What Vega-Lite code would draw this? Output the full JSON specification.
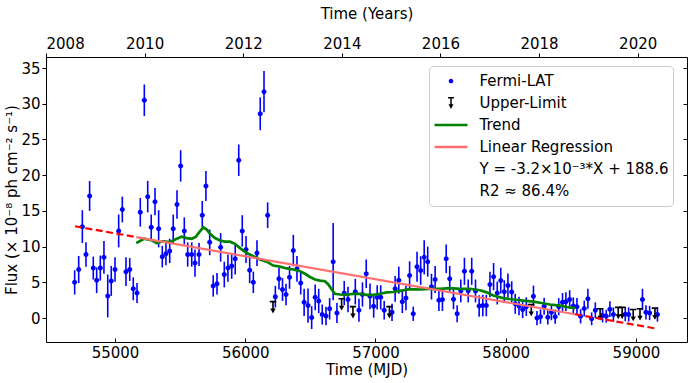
{
  "$schema": "https://vega.github.io/schema/vega-lite/v6.json",
  "width": 641,
  "height": 285,
  "autosize": {"type": "none"},
  "padding": {"left": 46, "top": 57, "right": 4, "bottom": 41},
  "config": {
    "font": "DejaVu Sans",
    "view": {"stroke": "black", "strokeWidth": 1},
    "axis": {"domain": false, "grid": false, "labelFont": "DejaVu Sans", "labelFontSize": 15, "labelColor": "black", "titleFont": "DejaVu Sans", "titleFontSize": 15, "titleFontWeight": "normal", "titleColor": "black", "tickColor": "black", "tickWidth": 1}
  },
  "datasets": {
    "flux": [
      {"mjd":54690,"flux":5.0,"err":1.7},{"mjd":54721,"flux":6.8,"err":1.9},{"mjd":54749,"flux":12.8,"err":2.3},{"mjd":54777,"flux":8.9,"err":1.7},{"mjd":54805,"flux":17.1,"err":2.1},{"mjd":54833,"flux":7.0,"err":1.6},{"mjd":54859,"flux":5.3,"err":1.8},{"mjd":54887,"flux":7.0,"err":1.75},{"mjd":54915,"flux":8.5,"err":2.3},{"mjd":54944,"flux":3.1,"err":3.0},
      {"mjd":54971,"flux":5.2,"err":2.1},{"mjd":55000,"flux":6.8,"err":1.7},{"mjd":55028,"flux":12.2,"err":2.3},{"mjd":55056,"flux":15.2,"err":1.8},{"mjd":55084,"flux":6.5,"err":2.0},{"mjd":55113,"flux":6.8,"err":1.6},{"mjd":55140,"flux":4.1,"err":1.6},{"mjd":55169,"flux":3.5,"err":1.4},{"mjd":55194,"flux":14.8,"err":2.0},{"mjd":55225,"flux":30.5,"err":2.2},
      {"mjd":55251,"flux":17.0,"err":2.2},{"mjd":55278,"flux":12.7,"err":1.8},{"mjd":55307,"flux":16.3,"err":1.9},{"mjd":55335,"flux":12.5,"err":2.6},{"mjd":55363,"flux":8.6,"err":1.5},{"mjd":55391,"flux":9.0,"err":1.6},{"mjd":55420,"flux":9.4,"err":1.7},{"mjd":55447,"flux":12.5,"err":2.0},{"mjd":55476,"flux":15.9,"err":2.0},{"mjd":55504,"flux":21.3,"err":2.2},
      {"mjd":55532,"flux":12.2,"err":1.9},{"mjd":55558,"flux":8.9,"err":1.7},{"mjd":55589,"flux":8.9,"err":1.7},{"mjd":55614,"flux":7.7,"err":1.9},{"mjd":55645,"flux":8.9,"err":1.6},{"mjd":55670,"flux":14.4,"err":2.0},{"mjd":55698,"flux":18.5,"err":2.1},{"mjd":55727,"flux":10.6,"err":1.8},{"mjd":55754,"flux":4.5,"err":1.5},{"mjd":55783,"flux":4.8,"err":1.5},
      {"mjd":55811,"flux":9.9,"err":2.0},{"mjd":55839,"flux":6.1,"err":1.8},{"mjd":55867,"flux":7.0,"err":1.9},{"mjd":55896,"flux":7.3,"err":1.8},{"mjd":55923,"flux":8.3,"err":2.2},{"mjd":55950,"flux":22.1,"err":2.2},{"mjd":55977,"flux":12.2,"err":2.2},{"mjd":56006,"flux":9.6,"err":1.9},{"mjd":56034,"flux":6.7,"err":1.8},{"mjd":56062,"flux":5.0,"err":1.5},
      {"mjd":56090,"flux":9.1,"err":1.8},{"mjd":56115,"flux":28.6,"err":2.3},{"mjd":56144,"flux":31.7,"err":2.9},{"mjd":56172,"flux":14.4,"err":1.8},{"mjd":56231,"flux":3.0,"err":1.5},{"mjd":56259,"flux":5.5,"err":1.5},{"mjd":56286,"flux":4.0,"err":1.6},{"mjd":56313,"flux":3.3,"err":1.5},{"mjd":56340,"flux":5.7,"err":1.6},{"mjd":56369,"flux":9.45,"err":2.2},
      {"mjd":56397,"flux":6.9,"err":1.8},{"mjd":56426,"flux":4.9,"err":1.6},{"mjd":56452,"flux":2.2,"err":1.9},{"mjd":56482,"flux":1.75,"err":2.4},{"mjd":56510,"flux":0.07,"err":1.6},{"mjd":56537,"flux":2.9,"err":1.8},{"mjd":56564,"flux":2.4,"err":1.7},{"mjd":56591,"flux":0.5,"err":1.4},{"mjd":56620,"flux":0.3,"err":1.3},{"mjd":56648,"flux":1.3,"err":1.5},
      {"mjd":56675,"flux":7.9,"err":5.4},{"mjd":56704,"flux":0.7,"err":1.4},{"mjd":56760,"flux":3.5,"err":1.7},{"mjd":56789,"flux":2.6,"err":1.8},{"mjd":56845,"flux":3.7,"err":1.8},{"mjd":56873,"flux":1.1,"err":1.6},{"mjd":56900,"flux":3.3,"err":1.7},{"mjd":56929,"flux":6.2,"err":2.0},{"mjd":56958,"flux":3.05,"err":1.8},{"mjd":56986,"flux":1.65,"err":1.6},
      {"mjd":57013,"flux":2.9,"err":1.7},{"mjd":57040,"flux":2.9,"err":1.7},{"mjd":57067,"flux":1.1,"err":1.3},{"mjd":57127,"flux":0.8,"err":1.2},{"mjd":57151,"flux":4.1,"err":1.8},{"mjd":57179,"flux":5.3,"err":1.9},{"mjd":57206,"flux":2.3,"err":1.6},{"mjd":57234,"flux":2.8,"err":1.7},{"mjd":57262,"flux":5.95,"err":2.0},{"mjd":57290,"flux":0.6,"err":1.0},
      {"mjd":57319,"flux":7.2,"err":2.1},{"mjd":57347,"flux":6.65,"err":2.0},{"mjd":57374,"flux":8.5,"err":2.4},{"mjd":57401,"flux":7.9,"err":2.1},{"mjd":57430,"flux":4.4,"err":1.8},{"mjd":57458,"flux":5.4,"err":1.9},{"mjd":57487,"flux":2.5,"err":1.5},{"mjd":57514,"flux":2.6,"err":1.6},{"mjd":57543,"flux":8.3,"err":2.0},{"mjd":57570,"flux":5.5,"err":1.8},
      {"mjd":57599,"flux":2.65,"err":1.4},{"mjd":57627,"flux":0.6,"err":1.2},{"mjd":57655,"flux":3.8,"err":1.6},{"mjd":57683,"flux":6.55,"err":1.9},{"mjd":57712,"flux":3.8,"err":1.6},{"mjd":57739,"flux":6.55,"err":1.9},{"mjd":57768,"flux":3.8,"err":1.6},{"mjd":57796,"flux":1.7,"err":1.5},{"mjd":57824,"flux":1.75,"err":1.5},{"mjd":57851,"flux":1.75,"err":1.5},
      {"mjd":57879,"flux":4.7,"err":1.8},{"mjd":57907,"flux":5.8,"err":1.9},{"mjd":57935,"flux":3.5,"err":1.6},{"mjd":57962,"flux":5.25,"err":1.8},{"mjd":57989,"flux":3.7,"err":1.6},{"mjd":58017,"flux":4.55,"err":1.7},{"mjd":58046,"flux":3.65,"err":1.5},{"mjd":58073,"flux":2.0,"err":1.4},{"mjd":58102,"flux":1.7,"err":1.3},{"mjd":58130,"flux":1.2,"err":1.2},
      {"mjd":58158,"flux":1.6,"err":1.3},{"mjd":58213,"flux":3.05,"err":1.5},{"mjd":58240,"flux":0.0,"err":1.0},{"mjd":58267,"flux":0.2,"err":1.0},{"mjd":58295,"flux":1.65,"err":1.2},{"mjd":58323,"flux":0.1,"err":1.0},{"mjd":58351,"flux":0.8,"err":1.1},{"mjd":58380,"flux":0.2,"err":1.0},{"mjd":58407,"flux":1.6,"err":1.2},{"mjd":58436,"flux":2.2,"err":1.3},
      {"mjd":58462,"flux":2.3,"err":1.3},{"mjd":58491,"flux":2.6,"err":1.3},{"mjd":58519,"flux":1.7,"err":1.2},{"mjd":58547,"flux":1.6,"err":1.2},{"mjd":58575,"flux":0.25,"err":1.0},{"mjd":58603,"flux":1.35,"err":1.1},{"mjd":58631,"flux":2.7,"err":1.4},{"mjd":58660,"flux":-0.1,"err":0.9},{"mjd":58688,"flux":1.1,"err":1.1},{"mjd":58744,"flux":0.4,"err":1.0},
      {"mjd":58772,"flux":0.25,"err":0.9},{"mjd":58800,"flux":1.25,"err":1.1},{"mjd":58827,"flux":0.5,"err":1.0},{"mjd":58918,"flux":0.55,"err":1.0},{"mjd":58944,"flux":0.5,"err":1.0},{"mjd":59050,"flux":2.6,"err":1.5},{"mjd":59077,"flux":0.8,"err":1.0},{"mjd":59105,"flux":0.7,"err":1.0},{"mjd":59165,"flux":0.5,"err":1.0}
    ],
    "ul": [
      {"mjd":56213,"flux":2.3},{"mjd":56740,"flux":2.7},{"mjd":56827,"flux":1.6},{"mjd":57107,"flux":1.6},{"mjd":58196,"flux":1.9},{"mjd":58725,"flux":1.3},{"mjd":58864,"flux":1.5},{"mjd":58894,"flux":1.5},{"mjd":58979,"flux":1.2},{"mjd":59031,"flux":1.3},{"mjd":59146,"flux":1.4}
    ],
    "trend": [
      {"mjd":55163,"flux":10.5},{"mjd":55222,"flux":11.1},{"mjd":55282,"flux":10.9},{"mjd":55320,"flux":10.5},{"mjd":55371,"flux":10.75},{"mjd":55422,"flux":10.65},{"mjd":55474,"flux":11.1},{"mjd":55512,"flux":11.4},{"mjd":55550,"flux":11.2},{"mjd":55589,"flux":11.1},
      {"mjd":55622,"flux":11.4},{"mjd":55652,"flux":12.15},{"mjd":55678,"flux":12.7},{"mjd":55704,"flux":12.4},{"mjd":55729,"flux":11.8},{"mjd":55768,"flux":11.2},{"mjd":55806,"flux":10.85},{"mjd":55844,"flux":10.7},{"mjd":55883,"flux":10.7},{"mjd":55921,"flux":10.4},
      {"mjd":55960,"flux":9.8},{"mjd":56011,"flux":9.1},{"mjd":56062,"flux":8.65},{"mjd":56113,"flux":8.2},{"mjd":56165,"flux":7.9},{"mjd":56215,"flux":7.35},{"mjd":56267,"flux":7.2},{"mjd":56318,"flux":6.95},{"mjd":56369,"flux":6.8},{"mjd":56420,"flux":6.55},
      {"mjd":56459,"flux":6.2},{"mjd":56497,"flux":5.75},{"mjd":56536,"flux":5.4},{"mjd":56574,"flux":5.25},{"mjd":56612,"flux":5.15},{"mjd":56638,"flux":4.7},{"mjd":56664,"flux":4.0},{"mjd":56689,"flux":3.4},{"mjd":56727,"flux":3.3},{"mjd":56779,"flux":3.25},
      {"mjd":56829,"flux":3.4},{"mjd":56881,"flux":3.4},{"mjd":56932,"flux":3.25},{"mjd":56983,"flux":3.25},{"mjd":57034,"flux":3.4},{"mjd":57086,"flux":3.6},{"mjd":57137,"flux":3.65},{"mjd":57188,"flux":3.8},{"mjd":57265,"flux":4.05},{"mjd":57342,"flux":4.0},
      {"mjd":57418,"flux":4.1},{"mjd":57495,"flux":4.1},{"mjd":57572,"flux":4.2},{"mjd":57649,"flux":4.1},{"mjd":57726,"flux":4.1},{"mjd":57802,"flux":3.9},{"mjd":57854,"flux":3.6},{"mjd":57904,"flux":3.15},{"mjd":57981,"flux":2.8},{"mjd":58058,"flux":2.6},
      {"mjd":58135,"flux":2.45},{"mjd":58212,"flux":2.3},{"mjd":58263,"flux":2.15},{"mjd":58340,"flux":1.9},{"mjd":58417,"flux":1.75},{"mjd":58468,"flux":1.55},{"mjd":58532,"flux":1.4}
    ],
    "reg": [{"mjd":55163,"flux":11.34},{"mjd":58532,"flux":0.53}],
    "regdash": [{"mjd":54693,"flux":12.85,"seg":"a"},{"mjd":55163,"flux":11.34,"seg":"a"},{"mjd":58532,"flux":0.53,"seg":"b"},{"mjd":59165,"flux":-1.5,"seg":"b"}],
    "years": [{"year":2008,"flux":0},{"year":2021,"flux":0}]
  },
  "layer": [
    {
      "encoding": {
        "x": {"field": "mjd", "type": "quantitative", "scale": {"domain": [54470, 59392], "nice": false, "zero": false},
              "axis": {"orient": "bottom", "title": "Time (MJD)", "values": [55000, 56000, 57000, 58000, 59000], "format": "d", "tickSize": -4, "labelPadding": 7, "titlePadding": 2}},
        "y": {"field": "flux", "type": "quantitative", "scale": {"domain": [-3.35, 36.55], "nice": false, "zero": false},
              "axis": {"orient": "left", "title": "Flux (× 10⁻⁸ ph cm⁻² s⁻¹)", "values": [0, 5, 10, 15, 20, 25, 30, 35], "tickSize": 4, "labelPadding": 2, "titlePadding": 1}}
      },
      "layer": [
        {
          "data": {"name": "flux"},
          "mark": {"type": "errorbar", "color": "#0000ff", "thickness": 1.6},
          "encoding": {"yError": {"field": "err"}}
        },
        {
          "data": {"name": "flux"},
          "transform": [{"calculate": "'Fermi-LAT'", "as": "series"}],
          "mark": {"type": "point", "filled": true, "size": 1276, "opacity": 1, "strokeWidth": 0},
          "encoding": {
            "color": {
              "field": "series", "type": "nominal",
              "scale": {"domain": ["Fermi-LAT", "Upper-Limit", "Trend", "Linear Regression", "Y = -3.2×10⁻³*X + 188.6", "R2 ≈ 86.4%"],
                        "range": ["#0000ff", "black", "#008000", "#ff6e6e", "transparent", "transparent"]},
              "legend": {
                "orient": "none", "legendX": 383, "legendY": 9, "direction": "vertical", "title": null,
                "fillColor": "white", "strokeColor": "#cccccc", "cornerRadius": 4, "padding": 4,
                "symbolSize": 1089, "symbolStrokeWidth": 0, "symbolOffset": 1.5, "symbolOpacity": 1,
                "labelFont": "DejaVu Sans", "labelFontSize": 15, "labelColor": "black", "labelOffset": 12, "labelLimit": 400,
                "clipHeight": 22, "rowPadding": 0, "zindex": 1
              }
            },
            "shape": {
              "field": "series", "type": "nominal",
              "scale": {"domain": ["Fermi-LAT", "Upper-Limit", "Trend", "Linear Regression", "Y = -3.2×10⁻³*X + 188.6", "R2 ≈ 86.4%"],
                        "range": [
                          "M0.14,0A0.14,0.14,0,1,1,-0.14,0A0.14,0.14,0,1,1,0.14,0Z",
                          "M-0.18,-0.36H0.18V-0.27H-0.18ZM-0.045,-0.27H0.045V0.12H-0.045ZM-0.15,0.08H0.15L0,0.36Z",
                          "M-1,-0.076H1V0.076H-1Z",
                          "M-1,-0.076H1V0.076H-1Z",
                          "M0.14,0A0.14,0.14,0,1,1,-0.14,0A0.14,0.14,0,1,1,0.14,0Z",
                          "M0.14,0A0.14,0.14,0,1,1,-0.14,0A0.14,0.14,0,1,1,0.14,0Z"
                        ]},
              "legend": {
                "orient": "none", "legendX": 383, "legendY": 9, "direction": "vertical", "title": null,
                "fillColor": "white", "strokeColor": "#cccccc", "cornerRadius": 4, "padding": 4,
                "symbolSize": 1089, "symbolStrokeWidth": 0, "symbolOffset": 1.5, "symbolOpacity": 1,
                "labelFont": "DejaVu Sans", "labelFontSize": 15, "labelColor": "black", "labelOffset": 12, "labelLimit": 400,
                "clipHeight": 22, "rowPadding": 0, "zindex": 1
              }
            }
          }
        },
        {
          "data": {"name": "ul"},
          "mark": {"type": "point", "shape": "M-0.6,-0.15H0.6V0.15H-0.6ZM-0.15,0.15H0.15V1.5H-0.15ZM-0.5,1.3H0.5L0,2.2Z", "filled": true, "size": 115, "color": "black", "opacity": 1, "strokeWidth": 0}
        },
        {
          "data": {"name": "trend"},
          "mark": {"type": "line", "color": "#008000", "strokeWidth": 2.7}
        },
        {
          "data": {"name": "reg"},
          "mark": {"type": "line", "color": "#ff7070", "strokeWidth": 2.2}
        },
        {
          "data": {"name": "regdash"},
          "mark": {"type": "line", "color": "#ff0000", "strokeWidth": 2.2, "strokeDash": [7, 3.5]},
          "encoding": {"detail": {"field": "seg", "type": "nominal"}}
        },
        {
          "data": {"values": [{}]},
          "mark": {"type": "text", "text": "PKS 0244-47", "font": "DejaVu Sans", "fontSize": 15, "align": "left", "baseline": "middle", "color": "black"},
          "encoding": {"x": {"datum": 55330}, "y": {"datum": 32.4}}
        }
      ]
    },
    {
      "data": {"name": "years"},
      "mark": {"type": "point", "opacity": 0},
      "encoding": {
        "x": {"field": "year", "type": "quantitative", "scale": {"domain": [2008, 2021], "nice": false, "zero": false},
              "axis": {"orient": "top", "title": "Time (Years)", "values": [2008, 2010, 2012, 2014, 2016, 2018, 2020], "format": "d", "tickSize": 4, "labelPadding": 2, "titlePadding": 15}},
        "y": {"field": "flux", "type": "quantitative", "scale": {"domain": [-3.35, 36.55], "nice": false, "zero": false},
              "axis": {"orient": "right", "title": null, "labels": false, "values": [0, 5, 10, 15, 20, 25, 30, 35], "tickSize": -4}}
      }
    }
  ],
  "resolve": {"scale": {"x": "independent"}, "axis": {"x": "independent", "y": "independent"}}
}
